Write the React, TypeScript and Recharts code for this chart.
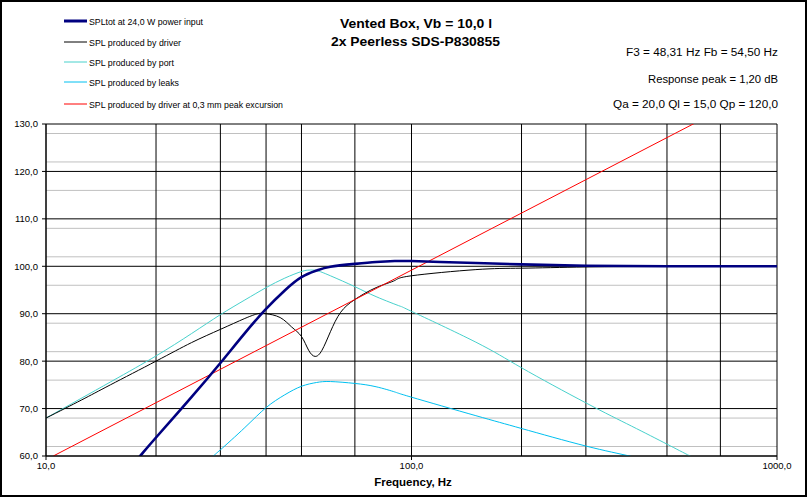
import { LineChart, Line, XAxis, YAxis, CartesianGrid } from 'recharts';

// frequency (Hz) / level (dB)
const totalFreq = [16, 18, 20, 25, 30, 35, 40, 45, 50, 55, 60, 70, 80, 90, 100, 120, 150, 200, 300, 500, 1000];
const totalSpl = [55.3, 59.8, 63.9, 72.4, 79.6, 85.9, 91.0, 94.9, 97.7, 99.1, 99.9, 100.5, 100.9, 101.1, 101.1, 100.9, 100.7, 100.4, 100.1, 100.0, 100.0];

const driverFreq = [10, 12.5, 15, 20, 25, 30, 35, 38, 40, 43.7, 47, 50, 52.3, 54.5, 56.9, 60, 64, 70, 80, 90, 100, 150, 200, 300, 500, 1000];
const driverSpl = [68.0, 71.8, 75.0, 80.0, 83.9, 86.7, 89.0, 90.0, 90.0, 89.2, 87.2, 85.2, 82.3, 81.0, 82.3, 86.2, 90.3, 93.0, 95.5, 97.0, 98.0, 99.3, 99.6, 99.85, 99.95, 100.0];

const portFreq = [10, 15, 20, 25, 30, 35, 40, 45, 50, 52.5, 55, 60, 70, 80, 93, 100, 150, 200, 300, 400, 500, 578, 650];
const portSpl = [68.0, 75.6, 81.1, 85.8, 89.8, 92.9, 95.5, 97.5, 98.9, 99.2, 99.1, 98.0, 95.7, 93.6, 91.6, 90.5, 84.0, 78.6, 71.2, 66.3, 62.5, 60.0, 58.0];

const leaksFreq = [25, 28.7, 30, 35, 40, 45, 50, 55, 60, 70, 80, 90, 100, 150, 200, 300, 400, 500];
const leaksSpl = [55.8, 60.0, 61.3, 66.0, 70.2, 72.9, 74.7, 75.5, 75.7, 75.3, 74.6, 73.5, 72.4, 68.5, 65.8, 62.1, 59.9, 58.0];

const excursionFreq = [10.47, 600];
const excursionSpl = [60.0, 130.3];

const freqTicks = [10, 100, 1000];
const freqGrid = [10, 20, 30, 40, 50, 60, 70, 80, 90, 100, 200, 300, 400, 500, 600, 700, 800, 900, 1000];
const splTicks = [60, 70, 80, 90, 100, 110, 120, 130];
const splMinor = [62, 64, 66, 68, 72, 74, 76, 78, 82, 84, 86, 88, 92, 94, 96, 98, 102, 104, 106, 108, 112, 114, 116, 118, 122, 124, 126, 128];

const toPoints = (f: number[], s: number[]) => f.map((x, i) => ({ f: x, spl: s[i] }));
const fmt = (v: number) => v.toFixed(1).replace('.', ',');

const FONT = '"Liberation Sans", Arial, sans-serif';

const legendRows = [
  { label: 'SPLtot at 24,0 W power input', color: '#000080', w: 3, len: 114, y: 21 },
  { label: 'SPL produced by driver', color: '#000000', w: 1, len: 92, y: 42 },
  { label: 'SPL produced by port', color: '#48d1cc', w: 1, len: 85, y: 62 },
  { label: 'SPL produced by leaks', color: '#00c0f0', w: 1, len: 90, y: 82 },
  { label: 'SPL produced by driver at 0,3 mm peak excursion', color: '#ff0000', w: 1, len: 194, y: 104 },
];

export default function App() {
  return (
    <div style={{ position: 'absolute', left: 0, top: 0, width: 807, height: 497, background: '#fff', fontFamily: FONT }}>
      <LineChart width={807} height={497} margin={{ top: 124, right: 30, left: 0, bottom: 0 }}>
        <CartesianGrid stroke="#c0c0c0" vertical={false} horizontalValues={splMinor} />
        <CartesianGrid stroke="#000000" horizontalValues={splTicks} verticalValues={freqGrid} />
        <XAxis
          dataKey="f"
          type="number"
          scale="log"
          domain={[10, 1000]}
          allowDataOverflow
          ticks={freqTicks}
          tickFormatter={fmt}
          height={41}
          tickSize={4}
          tickMargin={2}
          stroke="#000"
          tick={{ fill: '#000', fontSize: 9.5, fontFamily: FONT }}
        />
        <YAxis
          type="number"
          domain={[60, 130]}
          allowDataOverflow
          ticks={splTicks}
          tickFormatter={fmt}
          width={46}
          tickSize={4}
          tickMargin={4}
          stroke="#000"
          tick={{ fill: '#000', fontSize: 9.5, fontFamily: FONT }}
        />
        <Line data={toPoints(leaksFreq, leaksSpl)} dataKey="spl" type="natural" stroke="#00c0f0" strokeWidth={1} dot={false} isAnimationActive={false} />
        <Line data={toPoints(portFreq, portSpl)} dataKey="spl" type="natural" stroke="#48d1cc" strokeWidth={1} dot={false} isAnimationActive={false} />
        <Line data={toPoints(driverFreq, driverSpl)} dataKey="spl" type="natural" stroke="#000000" strokeWidth={1} dot={false} isAnimationActive={false} />
        <Line data={toPoints(excursionFreq, excursionSpl)} dataKey="spl" type="linear" stroke="#ff0000" strokeWidth={1} dot={false} isAnimationActive={false} />
        <Line data={toPoints(totalFreq, totalSpl)} dataKey="spl" type="natural" stroke="#000080" strokeWidth={2.6} dot={false} isAnimationActive={false} />
      </LineChart>

      <svg width={807} height={497} style={{ position: 'absolute', left: 0, top: 0, pointerEvents: 'none', whiteSpace: 'pre' }}>
        <rect x={1} y={1} width={805} height={495} fill="none" stroke="#000" strokeWidth={2} />
        {legendRows.map((r) => (
          <g key={r.label}>
            <line x1={64} x2={87} y1={r.y} y2={r.y} stroke={r.color} strokeWidth={r.w} />
            <text x={89} y={r.y + 3.5} fontSize={9.5} fontFamily={FONT} textLength={r.len} lengthAdjust="spacingAndGlyphs">
              {r.label}
            </text>
          </g>
        ))}
        <text x={416} y={28} fontSize={12.5} fontWeight="bold" fontFamily={FONT} textAnchor="middle" textLength={152} lengthAdjust="spacingAndGlyphs">
          Vented Box, Vb = 10,0 l
        </text>
        <text x={415.5} y={46} fontSize={12.5} fontWeight="bold" fontFamily={FONT} textAnchor="middle" textLength={169} lengthAdjust="spacingAndGlyphs">
          2x Peerless SDS-P830855
        </text>
        <text x={778} y={55.5} fontSize={10} fontFamily={FONT} textAnchor="end" textLength={152} lengthAdjust="spacingAndGlyphs">
          {'F3 = 48,31  Hz  Fb = 54,50  Hz'}
        </text>
        <text x={778} y={82.5} fontSize={10} fontFamily={FONT} textAnchor="end" textLength={130} lengthAdjust="spacingAndGlyphs">
          {'Response  peak = 1,20 dB'}
        </text>
        <text x={778} y={107.5} fontSize={10} fontFamily={FONT} textAnchor="end" textLength={165} lengthAdjust="spacingAndGlyphs">
          {'Qa = 20,0  Ql = 15,0  Qp = 120,0'}
        </text>
        <text x={413} y={486} fontSize={11.5} fontWeight="bold" fontFamily={FONT} textAnchor="middle">
          Frequency, Hz
        </text>
      </svg>
    </div>
  );
}
